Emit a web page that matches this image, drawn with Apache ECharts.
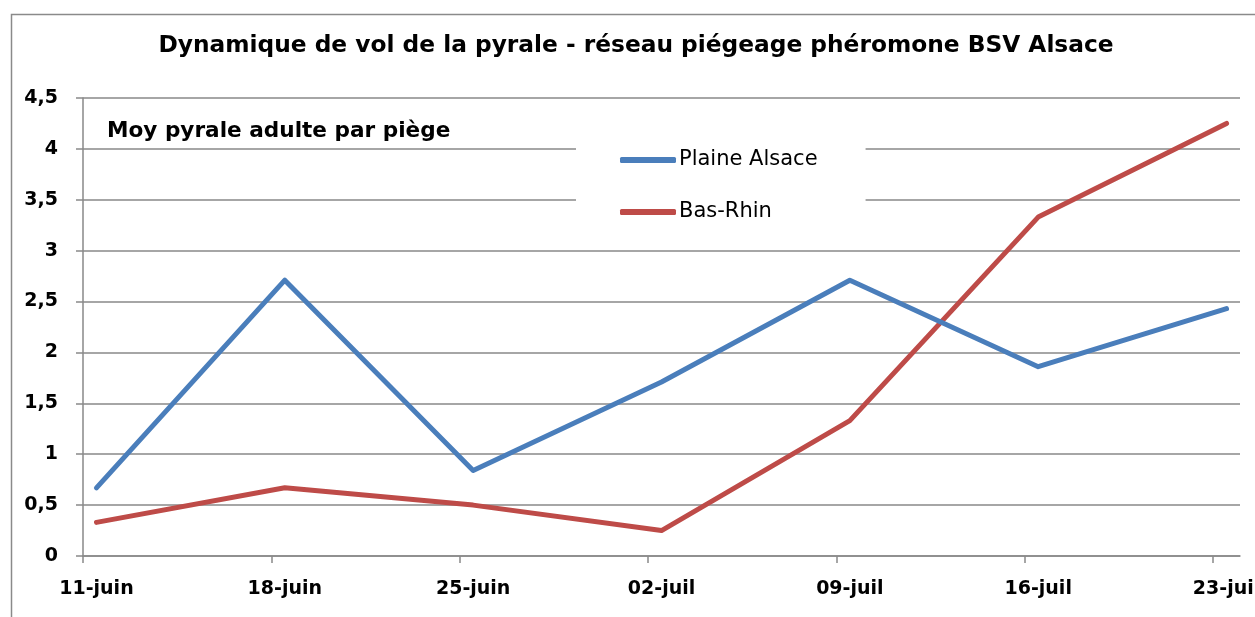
<!DOCTYPE html>
<html>
<head>
<meta charset="utf-8">
<script src="https://cdn.jsdelivr.net/npm/echarts@6/dist/echarts.min.js"></script>
<style>
html,body{margin:0;padding:0;background:#fff;}
#chart{width:1255px;height:617px;}
</style>
</head>
<body>
<div id="chart"></div>
<script>
// ---- data ----
const xLabels = ['11-juin', '18-juin', '25-juin', '02-juil', '09-juil', '16-juil', '23-juil'];
const sampleDays = [0, 7, 14, 21, 28, 35, 42]; // days since 11-juin
const plaineAlsace = [0.67, 2.71, 0.84, 1.71, 2.71, 1.86, 2.43];
const basRhin = [0.33, 0.67, 0.50, 0.25, 1.33, 3.33, 4.25];
const yTicks = [0, 0.5, 1, 1.5, 2, 2.5, 3, 3.5, 4, 4.5];
const seriesNames = ['Plaine Alsace', 'Bas-Rhin'];
const titleText = 'Dynamique de vol de la pyrale - réseau piégeage phéromone BSV Alsace';
const yAxisTitle = 'Moy pyrale adulte par piège';

// Excel date axis: each point and date label sits in the middle of its day slot
const dayMid = d => d + 0.5;
const labelValues = sampleDays.map(dayMid);
const toPoints = vals => vals.map((v, i) => [dayMid(sampleDays[i]), v]);

const FONT = '"DejaVu Sans"';
const chart = echarts.init(document.getElementById('chart'), null, {renderer: 'canvas'});
chart.setOption({
  animation: false,
  backgroundColor: '#fff',
  grid: {left: 83, right: 15, top: 98, bottom: 61, containLabel: false, outerBoundsMode: 'none'},
  xAxis: {
    type: 'value', min: 0, max: 43, interval: 7,
    axisLine: {show: true, lineStyle: {color: '#898989', width: 1.5}},
    axisTick: {show: true, length: 7, lineStyle: {color: '#898989', width: 1.5}, customValues: sampleDays},
    axisLabel: {
      customValues: labelValues,
      hideOverlap: false,
      margin: 24, color: '#000', fontFamily: FONT, fontWeight: 'bold', fontSize: 19,
      formatter: v => xLabels[labelValues.indexOf(v)] || ''
    },
    splitLine: {show: false}
  },
  yAxis: {
    type: 'value', min: yTicks[0], max: yTicks[yTicks.length - 1], interval: yTicks[1] - yTicks[0],
    axisLine: {show: true, lineStyle: {color: '#898989', width: 1.5}},
    axisTick: {show: true, length: 7, lineStyle: {color: '#898989', width: 1.5}},
    axisLabel: {
      margin: 25, color: '#000', fontFamily: FONT, fontWeight: 'bold', fontSize: 19,
      formatter: v => String(v).replace('.', ',')
    },
    splitLine: {show: true, lineStyle: {color: '#898989', width: 1.5}}
  },
  legend: {
    orient: 'vertical',
    left: 576, top: 130,
    backgroundColor: '#fff',
    padding: [18, 48, 16, 44],
    itemWidth: 56, itemHeight: 6, itemGap: 28,
    icon: 'roundRect',
    textStyle: {fontFamily: FONT, fontSize: 21, color: '#000', lineHeight: 24, padding: [0, 0, 0, -2]},
    data: seriesNames
  },
  series: [
    {name: seriesNames[0], type: 'line', data: toPoints(plaineAlsace), showSymbol: false, symbol: 'none',
     lineStyle: {color: '#4A7EBB', width: 5, cap: 'round', join: 'round'}, itemStyle: {color: '#4A7EBB'}, z: 3},
    {name: seriesNames[1], type: 'line', data: toPoints(basRhin), showSymbol: false, symbol: 'none',
     lineStyle: {color: '#BE4B48', width: 5, cap: 'round', join: 'round'}, itemStyle: {color: '#BE4B48'}, z: 2}
  ],
  graphic: [
    {type: 'rect', left: 9, top: 12, shape: {width: 1400, height: 800}, silent: true, z: -10,
     style: {fill: 'none', stroke: '#8a8a8a', lineWidth: 1.5}},
    {type: 'text', x: 636, y: 46, z: 10,
     style: {text: titleText, fontFamily: FONT, fontWeight: 'bold', fontSize: 23.3, fill: '#000',
             textAlign: 'center', textVerticalAlign: 'middle'}},
    {type: 'text', x: 107, y: 131, z: 10,
     style: {text: yAxisTitle, fontFamily: FONT, fontWeight: 'bold', fontSize: 21.6, fill: '#000',
             textAlign: 'left', textVerticalAlign: 'middle'}}
  ]
});
</script>
</body>
</html>
